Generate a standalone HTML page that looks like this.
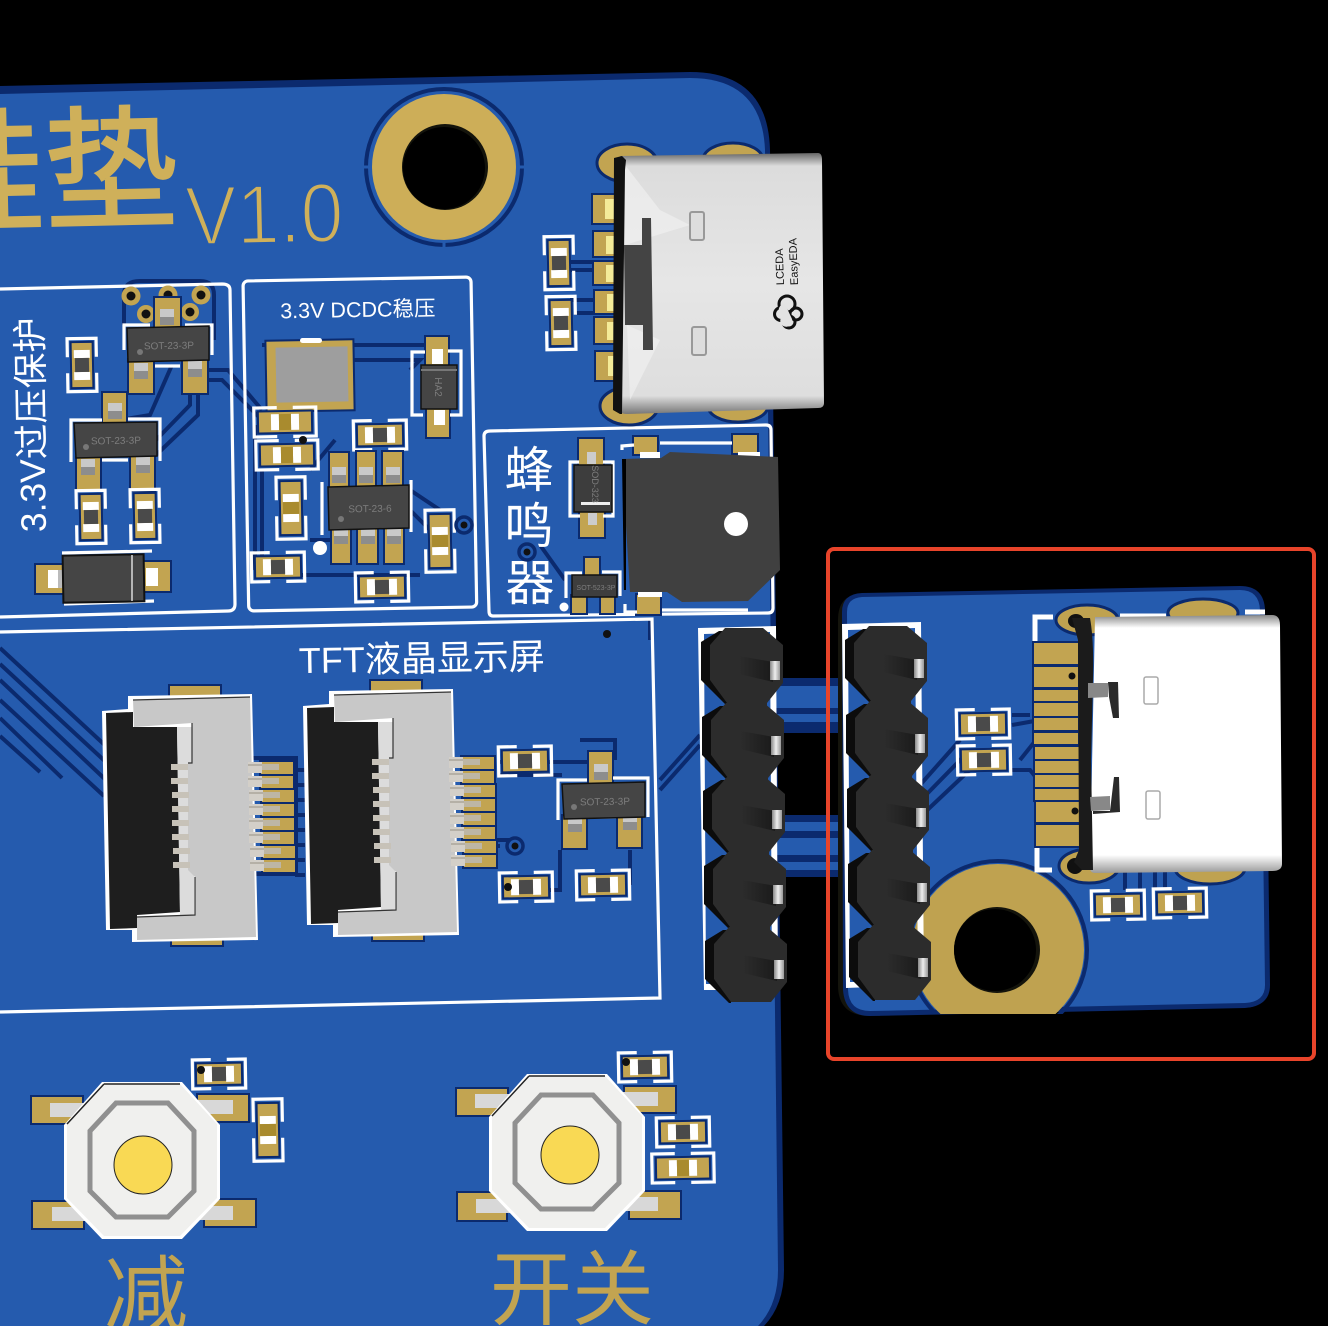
<!DOCTYPE html>
<html><head><meta charset="utf-8"><style>
html,body{margin:0;padding:0;background:#000;width:1328px;height:1326px;overflow:hidden}
svg{display:block}
text{font-family:"Liberation Sans","Noto Sans CJK SC",sans-serif}
.g{fill:#C2A451;stroke:#0B2A6E;stroke-width:4;paint-order:stroke}
.t{fill:none;stroke:#0B2A6E;stroke-width:4}
.s{fill:none;stroke:#fff;stroke-width:3.2}
.w{fill:#fff}
.lb{fill:#7d7d7d;font-size:10px;text-anchor:middle}
</style></head><body>
<svg width="1328" height="1326" viewBox="0 0 1328 1326" xmlns="http://www.w3.org/2000/svg">
<defs>
<linearGradient id="sh" x1="0" y1="0" x2="0" y2="1"><stop offset="0" stop-color="#666"/><stop offset=".05" stop-color="#dcdcdc"/><stop offset=".5" stop-color="#e6e6e6"/><stop offset=".93" stop-color="#dedede"/><stop offset="1" stop-color="#777"/></linearGradient>
<linearGradient id="sw" x1="0" y1="0" x2="0" y2="1"><stop offset="0" stop-color="#888"/><stop offset=".05" stop-color="#fff"/><stop offset=".93" stop-color="#fff"/><stop offset="1" stop-color="#999"/></linearGradient>
<linearGradient id="pin" x1="0" y1="0" x2="1" y2="0"><stop offset="0" stop-color="#888"/><stop offset=".5" stop-color="#eee"/><stop offset="1" stop-color="#999"/></linearGradient>
<linearGradient id="nub" x1="0" y1="0" x2="1" y2="0"><stop offset="0" stop-color="#2c2c2c"/><stop offset="1" stop-color="#1a1a1a"/></linearGradient>

<g id="r" transform="rotate(-1)">
<rect class="g" x="-22" y="-10" width="44" height="20"/>
<rect class="w" x="-15" y="-8" width="8" height="16"/><rect class="w" x="7" y="-8" width="8" height="16"/>
<rect fill="#4a4a4a" x="-7" y="-7" width="14" height="14"/>
<path class="s" d="M-8-14.500H-26.500V14.500H-8M8-14.500H26.500V14.500H8"/>
</g>
<g id="c" transform="rotate(-1)">
<rect class="g" x="-26" y="-10" width="52" height="20"/>
<rect class="w" x="-14" y="-8" width="8" height="16"/><rect class="w" x="6" y="-8" width="8" height="16"/>
<rect fill="#A98B2E" x="-6" y="-8" width="12" height="16"/>
<path class="s" d="M-8-14.500H-31V14.500H-8M8-14.500H31V14.500H8"/>
</g>
<g id="via"><circle r="8" fill="#255BAE" stroke="#0B2A6E" stroke-width="3.500"/><circle r="3.500" fill="#111"/></g>
<g id="ep"><rect x="-7" y="-3" width="14" height="16" fill="#c9c9c9"/><rect x="-7" y="5" width="14" height="8" fill="#8d8d8d"/></g>

<g id="pn">
<rect class="g" stroke-width="3" x="261" y="0" width="32" height="12"/>
<rect fill="#bdb6a5" x="261" y="2" width="18" height="6"/>
<rect fill="#d3cfc8" x="248" y="0" width="14" height="11"/>
<rect fill="#b5b0a6" x="248" y="2" width="14" height="2"/>
<rect fill="#c7c2b8" x="171" y="2" width="17" height="6"/>
</g>
<g id="fpc">
<rect class="g" x="170" y="686" width="50" height="11"/><rect class="g" x="172" y="937" width="50" height="8"/>
<path fill="#fff" d="M102 711L128 709V696L252 694 258 940 132 942V930L106 930Z"/>
<path fill="#1e1e1e" d="M106 713L133 712V727L177 727 180 912 137 915V928L110 929Z"/>
<path fill="#dcdcdc" d="M177 727H194V916H180Z"/>
<path fill="#c8c8c8" d="M133 700L250 697 256 937 137 940V917L195 915V877L188 870V763H192V723L134 727Z"/>
<path fill="none" stroke="#333" stroke-width="1.200" d="M192 723V763H188M195 877V915L137 917M133 700L250 697"/>
<use href="#pn" y="762"/><use href="#pn" y="776"/><use href="#pn" y="790" x="1"/><use href="#pn" y="804" x="1"/><use href="#pn" y="818" x="1"/><use href="#pn" y="832" x="1"/><use href="#pn" y="846" x="2"/><use href="#pn" y="860" x="2"/>
</g>

<path id="hd" fill="#0c0c0c" d="M0 14L18 3 26 3V76H24L0 52Z"/>
<path id="hm" fill="#2c2c2c" d="M9 17L24 0H62L82 17V55L66 75H26L9 52Z"/>
<g id="hn">
<path fill="url(#nub)" d="M38 28L72 34V54L38 46Z"/>
<rect x="69" y="33" width="10" height="19" fill="url(#pin)"/>
</g>
<g id="hdr">
<use href="#hd" x="4" y="299"/><use href="#hd" x="3" y="224"/><use href="#hd" x="2" y="149"/><use href="#hd" x="1" y="75"/><use href="#hd"/>
<use href="#hm" x="4" y="299"/><use href="#hm" x="3" y="224"/><use href="#hm" x="2" y="149"/><use href="#hm" x="1" y="75"/><use href="#hm"/>
<rect x="28" y="70" width="38" height="10" fill="#2c2c2c"/><rect x="29" y="145" width="38" height="10" fill="#2c2c2c"/><rect x="30" y="219" width="38" height="10" fill="#2c2c2c"/><rect x="31" y="294" width="38" height="10" fill="#2c2c2c"/>
<use href="#hn" x="4" y="299"/><use href="#hn" x="3" y="224"/><use href="#hn" x="2" y="149"/><use href="#hn" x="1" y="75"/><use href="#hn"/>
</g>
<g id="swb">
<path fill="#fff" d="M-40-79H40L78-36V38L40 78H-40L-78 38V-36Z"/>
<path fill="#f0f0ee" d="M-38-77H38L75-37V37L38 75H-38L-75 37V-37Z"/>
<path fill="none" stroke="#909090" stroke-width="5" d="M-26-58H26L52-30V30L26 56H-26L-52 30V-30Z"/>
<path fill="none" stroke="#222" stroke-width="1.500" d="M-38-77H38M-38-77L-75-37"/>
</g>
</defs>

<rect width="1328" height="1326" fill="#000"/>

<!-- main board -->
<path fill="#0B2A6E" d="M0 86L690 72Q768 72 770 150L784 1270Q784 1305 764 1326H0Z"/>
<path fill="#255BAE" d="M0 94L690 78Q762 78 765 150L778 1270Q778 1305 758 1326H0Z"/>

<!-- bridge strips -->
<rect x="775" y="678" width="80" height="55" fill="#0B2A6E"/><rect x="775" y="686" width="80" height="22" fill="#255BAE"/><rect x="775" y="714" width="80" height="8" fill="#255BAE"/>
<rect x="775" y="815" width="80" height="62" fill="#0B2A6E"/><rect x="775" y="822" width="80" height="9" fill="#255BAE"/><rect x="775" y="838" width="80" height="17" fill="#255BAE"/><rect x="775" y="862" width="80" height="8" fill="#255BAE"/>

<!-- traces -->
<g>
<path class="t" d="M0 648L108 748M0 664L108 764M0 680L108 782M0 700L104 796M0 718L62 778M0 736L40 772"/>
<path class="t" d="M205 370H228L262 410M205 380H222L262 420M172 365L150 415L120 420M156 440L190 405V375M156 455L198 415V375"/>
<path class="t" d="M262 345H440M350 360H420L410 370M255 425V570M262 470V560M310 470L335 440M310 540H330M300 575H420M440 510L410 490M410 510L430 530"/>
<path class="t" d="M570 262H600M570 270H600M570 300H600M574 313H600M540 545L565 580"/>
<path class="t" d="M500 762H590M500 775H562M560 850V890H540M630 850V885M500 846H495M660 790L700 745M660 780L700 735"/>
<path class="t" d="M580 740H615V760M650 640V620"/>
<path class="t" d="M252 758H296V874H252M295 770H305M295 785H305M295 800H305M295 815H305M295 830H305M295 845H305M295 860H305M295 875H305M490 840H515"/>
<circle class="t" cx="444" cy="167" r="78"/>
<path class="t" d="M124 325V295Q124 281 140 281H200Q214 281 214 295V340"/>
</g>
<path stroke="#255BAE" stroke-width="3" fill="none" d="M364 167H372M516 167H526M444 242V250"/>

<!-- mounting hole -->
<ellipse cx="444" cy="167" rx="72" ry="73" fill="#CDAE58"/>
<circle cx="445" cy="167" r="43" fill="#14140c"/><circle cx="444" cy="168" r="41" fill="#000"/>

<!-- title -->
<text x="-89" y="221" font-size="134" fill="#CFB05A" stroke="#CFB05A" stroke-width="2" transform="rotate(-1.300 0 221)">硅垫</text>
<text x="186" y="245" font-size="84" fill="#CFB05A" stroke="#255BAE" stroke-width="2.500" paint-order="fill" textLength="158" lengthAdjust="spacingAndGlyphs" transform="rotate(-1.300 187 245)">V1.0</text>

<!-- silk frames -->
<path class="s" d="M0 289L222 284Q230 284 230 290L235 604Q235 611 228 611L0 617"/>
<rect class="s" x="243" y="281" width="228" height="330" rx="5" transform="rotate(-1 243 281)"/>
<path class="s" d="M484 436Q484 431 490 431L766 425Q771 425 771 430L773 608Q773 613 768 613L493 616Q489 616 489 611Z"/>
<path class="s" d="M0 632L652 619 660 998 0 1012"/>

<!-- labels -->
<text transform="translate(46 532) rotate(-91)" font-size="35.500" fill="#fff">3.3V过压保护</text>
<text x="358" y="317" font-size="21.500" fill="#fff" text-anchor="middle" transform="rotate(-1 358 317)">3.3V DCDC稳压</text>
<text x="422" y="671" font-size="36" fill="#fff" text-anchor="middle" transform="rotate(-1 422 671)">TFT液晶显示屏</text>
<text x="529" y="487" font-size="49" fill="#fff" text-anchor="middle">蜂</text>
<text x="529" y="543" font-size="49" fill="#fff" text-anchor="middle">鸣</text>
<text x="530" y="600" font-size="49" fill="#fff" text-anchor="middle">器</text>

<!-- vias top -->
<g fill="#C2A451">
<circle cx="131" cy="296" r="9.500"/><circle cx="168" cy="295" r="9.500"/><circle cx="201" cy="295" r="9.500"/><circle cx="146" cy="314" r="9"/><circle cx="190" cy="312" r="9"/>
</g>
<g fill="#111"><circle cx="131" cy="296" r="4.500"/><circle cx="168" cy="295" r="4.500"/><circle cx="201" cy="295" r="4.500"/><circle cx="146" cy="314" r="4.500"/><circle cx="190" cy="312" r="4.500"/></g>

<!-- SOT 1 -->
<rect class="g" x="155" y="298" width="25" height="30"/><rect class="g" x="129" y="360" width="24" height="33"/><rect class="g" x="183" y="360" width="24" height="33"/>
<use href="#ep" x="167" y="312"/><use href="#ep" x="141" y="366"/><use href="#ep" x="195" y="364"/>
<path class="s" d="M124 350V325H150M185 325H212V355M155 366H180"/>
<path fill="#454545" stroke="#111" stroke-width="1.500" d="M127 328L209 326V360L128 362Z"/>
<text class="lb" x="169" y="349" transform="rotate(-1 169 349)">SOT-23-3P</text><circle cx="140" cy="352" r="3" fill="#777"/>
<!-- SOT 2 -->
<rect class="g" x="103" y="393" width="23" height="30"/><rect class="g" x="77" y="458" width="23" height="32"/><rect class="g" x="131" y="456" width="23" height="34"/>
<use href="#ep" x="115" y="406"/><use href="#ep" x="88" y="462"/><use href="#ep" x="143" y="460"/>
<path class="s" d="M71 462V420H102M128 419H160V461M102 460H128"/>
<path fill="#454545" stroke="#111" stroke-width="1.500" d="M74 423L157 422V456L76 458Z"/>
<text class="lb" x="116" y="444" transform="rotate(-1 116 444)">SOT-23-3P</text><circle cx="86" cy="447" r="3" fill="#777"/>
<use href="#r" transform="translate(82 365) rotate(90)"/>
<use href="#r" transform="translate(91 517) rotate(90)"/>
<use href="#r" transform="translate(145 516) rotate(90)"/>
<!-- diode -->
<rect class="g" x="36" y="565" width="30" height="28"/><rect class="g" x="141" y="562" width="29" height="29"/>
<rect class="w" x="48" y="570" width="14" height="18"/><rect fill="#bbb" x="58" y="570" width="4" height="18"/><rect class="w" x="146" y="568" width="12" height="18"/>
<path class="s" d="M62 553L152 551M64 604L154 601"/>
<rect x="63" y="555" width="81" height="47" fill="#454545" stroke="#111" stroke-width="2" transform="rotate(-1 103 578)"/>
<path stroke="#ddd" stroke-width="1.500" d="M132 555V601"/>

<!-- inductor -->
<rect class="g" x="267" y="341" width="86" height="69" transform="rotate(-1 310 375)"/>
<rect x="276" y="347" width="72" height="55" fill="#9e9e9e" transform="rotate(-1 310 375)"/>
<rect x="300" y="338" width="22" height="5" rx="2.500" fill="#fff"/>
<!-- HA2 -->
<rect class="g" x="426" y="337" width="22" height="29"/><rect class="g" x="427" y="408" width="22" height="29"/>
<rect class="w" x="432" y="349" width="11" height="15"/><rect class="w" x="434" y="410" width="11" height="15"/>
<path class="s" d="M425 352H412V415H423M448 351H461V415H450"/>
<rect x="421" y="365" width="36" height="44" fill="#454545" stroke="#111" stroke-width="1.500"/>
<rect x="421" y="369" width="36" height="2" fill="#777"/>
<text class="lb" transform="translate(435 387) rotate(90)">HA2</text>
<!-- caps/resistors DCDC -->
<use href="#c" transform="translate(285 422)"/><use href="#c" transform="translate(287 455)"/>
<use href="#r" transform="translate(380 435)"/>
<use href="#c" transform="translate(291 508) rotate(90)"/>
<use href="#r" transform="translate(278 567)"/><use href="#r" transform="translate(382 587)"/>
<use href="#c" transform="translate(440 541) rotate(90)"/>
<use href="#via" x="464" y="525"/>
<circle cx="303" cy="440" r="4" fill="#111"/>
<!-- SOT-23-6 -->
<g>
<rect class="g" x="330" y="453" width="18" height="35"/><rect class="g" x="357" y="452" width="18" height="35"/><rect class="g" x="383" y="452" width="19" height="35"/>
<rect class="g" x="332" y="528" width="18" height="35"/><rect class="g" x="358" y="528" width="19" height="35"/><rect class="g" x="385" y="527" width="18" height="36"/>
<use href="#ep" x="339" y="470"/><use href="#ep" x="366" y="470"/><use href="#ep" x="393" y="470"/>
<use href="#ep" x="341" y="531"/><use href="#ep" x="368" y="531"/><use href="#ep" x="394" y="531"/>
</g>
<path class="s" d="M322 482V535M411 480V532"/><circle cx="320" cy="548" r="7" fill="#fff"/>
<path fill="#454545" stroke="#111" stroke-width="1.500" d="M328 487L409 485V528L329 530Z"/>
<text class="lb" x="370" y="512" transform="rotate(-1 370 512)">SOT-23-6</text><circle cx="341" cy="519" r="3" fill="#777"/>

<!-- USB-C top -->
<g fill="#C2A451" stroke="#0B2A6E" stroke-width="3">
<ellipse cx="627" cy="163" rx="30" ry="19"/><ellipse cx="733" cy="160" rx="30" ry="17"/>
<ellipse cx="629" cy="406" rx="29" ry="19"/><ellipse cx="738" cy="406" rx="30" ry="16"/>
</g>
<g>
<rect class="g" x="593" y="195" width="24" height="28"/><rect class="g" x="594" y="232" width="24" height="24"/><rect class="g" x="594" y="262" width="24" height="22"/><rect class="g" x="595" y="291" width="24" height="22"/><rect class="g" x="595" y="318" width="24" height="25"/><rect class="g" x="596" y="352" width="24" height="28"/>
</g>
<g fill="#F4EB98"><rect x="605" y="199" width="10" height="20"/><rect x="606" y="236" width="10" height="18"/><rect x="606" y="265" width="10" height="17"/><rect x="607" y="294" width="10" height="17"/><rect x="607" y="322" width="10" height="18"/><rect x="608" y="356" width="10" height="20"/></g>
<use href="#r" transform="translate(559 263) rotate(90)"/>
<use href="#r" transform="translate(561 323) rotate(90)"/>
<path fill="url(#sh)" d="M620 156L818 153Q822 153 822 160L824 403Q824 408 818 408L627 414Q618 414 618 405Z"/>
<path fill="#f4f4f4" opacity=".55" d="M625 165L660 210 690 225 625 245ZM627 325L660 340 630 400Z"/>
<path fill="#111" d="M614 158L622 156 626 160 625 170 622 414H620L613 410Z"/>
<path fill="#444" d="M624 245H642V218H651L653 350H643V325H625Z"/>
<rect x="690" y="212" width="14" height="28" rx="2" fill="#ddd" stroke="#999" stroke-width="2"/>
<rect x="692" y="327" width="14" height="28" rx="2" fill="#ddd" stroke="#999" stroke-width="2"/>
<text font-size="11" fill="#111" transform="translate(784 285) rotate(-92)">LCEDA</text>
<text font-size="11" fill="#111" transform="translate(798 285) rotate(-92)">EasyEDA</text>
<g fill="none" stroke="#111" stroke-width="3"><circle cx="787" cy="304" r="8"/><circle cx="781" cy="314" r="6.500"/><circle cx="789" cy="322" r="6"/><circle cx="796" cy="314" r="6"/></g>
<path d="M785 304a6 6 0 1 0 3 11 6 6 0 1 0 4 4z" fill="#e3e3e3"/>

<!-- buzzer -->
<rect class="g" x="634" y="437" width="23" height="17"/><rect class="g" x="733" y="435" width="24" height="18"/><rect class="g" x="637" y="595" width="23" height="19"/>
<path class="s" d="M622 450V446L634 445M660 443H732M625 604V612H637M662 610H748"/>
<path fill="#fff" d="M640 452H660V458H640ZM738 452H760V458H738ZM638 592H662V597H638Z"/>
<path fill="#404040" d="M622 459L661 458 670 452 778 457 780 570 748 601 682 602 667 592H630Z"/>
<path fill="#000" d="M622 459H626V590H624Z"/>
<circle cx="736" cy="524" r="12" fill="#fff"/>
<!-- SOD-323 -->
<rect class="g" x="579" y="439" width="24" height="27"/><rect class="g" x="580" y="511" width="24" height="26"/>
<rect fill="#ccc" x="587" y="452" width="9" height="12"/><rect fill="#ccc" x="588" y="513" width="9" height="12"/>
<path class="s" d="M579 462H570V516H580M603 462H613V516H603"/>
<rect x="574" y="465" width="38" height="47" fill="#3d3d3d" stroke="#111" stroke-width="1.500"/>
<rect x="581" y="502" width="29" height="3" fill="#eee"/>
<text class="lb" style="font-size:9px" transform="translate(592 484) rotate(90)">SOD-323</text>
<!-- SOT-523 -->
<rect class="g" x="585" y="558" width="14" height="19"/><rect class="g" x="572" y="596" width="14" height="17"/><rect class="g" x="601" y="596" width="13" height="17"/>
<path class="s" d="M566 598V573H582M602 572H620V596"/><circle cx="564" cy="607" r="4.500" fill="#fff"/>
<rect x="572" y="575" width="45" height="22" fill="#3e3e3e" stroke="#111" stroke-width="1.500"/>
<text class="lb" style="font-size:7px" x="596" y="590">SOT-523-3P</text>
<use href="#via" x="527" y="552"/>
<circle cx="607" cy="634" r="4" fill="#111"/>

<!-- FPCs -->
<use href="#fpc"/><use href="#fpc" x="201" y="-5"/>
<!-- TFT side parts -->
<use href="#r" transform="translate(525 761)"/>
<use href="#r" transform="translate(526 887)"/><use href="#r" transform="translate(603 885)"/>
<circle cx="508" cy="887" r="4" fill="#111"/>
<use href="#via" x="515" y="846"/>
<rect class="g" x="589" y="752" width="23" height="32"/><rect class="g" x="563" y="816" width="23" height="32"/><rect class="g" x="618" y="815" width="23" height="32"/>
<use href="#ep" x="601" y="767"/><use href="#ep" x="575" y="819"/><use href="#ep" x="630" y="817"/>
<path class="s" d="M558 820V780H587M613 778H648V817M588 817H616"/>
<path fill="#454545" stroke="#111" stroke-width="1.500" d="M562 784L645 782V817L564 819Z"/>
<text class="lb" x="605" y="805" transform="rotate(-1 605 805)">SOT-23-3P</text><circle cx="574" cy="807" r="3" fill="#777"/>

<!-- headers -->
<path fill="#fff" d="M698 628L776 626 778 990H716 704ZM704 634L706 984H772L770 632Z" fill-rule="evenodd"/>
<use href="#hdr" x="701" y="628"/>

<!-- switch 1 -->
<g>
<rect class="g" x="32" y="1097" width="50" height="26"/><rect class="g" x="198" y="1095" width="50" height="26"/><rect class="g" x="33" y="1202" width="50" height="26"/><rect class="g" x="205" y="1200" width="50" height="26"/>
<g fill="#d8d8d8"><rect x="50" y="1103" width="40" height="14"/><rect x="195" y="1100" width="38" height="14"/><rect x="52" y="1207" width="40" height="14"/><rect x="195" y="1206" width="38" height="14"/></g>
<use href="#swb" x="142" y="1161"/><ellipse cx="143" cy="1165" rx="29" ry="29" fill="#F9D954" stroke="#222" stroke-width="1"/>
<use href="#r" transform="translate(219 1074)"/><use href="#c" transform="translate(268 1130) rotate(90)"/>
<circle cx="201" cy="1070" r="4" fill="#111"/>
</g>
<!-- switch 2 -->
<g>
<rect class="g" x="457" y="1089" width="50" height="26"/><rect class="g" x="625" y="1087" width="50" height="25"/><rect class="g" x="458" y="1193" width="48" height="27"/><rect class="g" x="630" y="1192" width="50" height="26"/>
<g fill="#d8d8d8"><rect x="475" y="1094" width="40" height="14"/><rect x="620" y="1092" width="38" height="14"/><rect x="476" y="1199" width="40" height="14"/><rect x="620" y="1197" width="38" height="14"/></g>
<use href="#swb" x="567" y="1153"/><ellipse cx="570" cy="1155" rx="29" ry="29" fill="#F9D954" stroke="#222" stroke-width="1"/>
<use href="#r" transform="translate(645 1067)"/><use href="#r" transform="translate(683 1132)"/><use href="#c" transform="translate(683 1168)"/>
<circle cx="626" cy="1062" r="4" fill="#111"/>
</g>
<text x="146" y="1325" font-size="84" fill="#C2A451" text-anchor="middle">减</text>
<text x="572" y="1318" font-size="82" fill="#C2A451" text-anchor="middle">开关</text>

<!-- small board -->
<path fill="#14140c" d="M838 620Q838 594 862 594L880 594V1016H870Q838 1016 838 985Z"/>
<path fill="#0B2A6E" d="M842 612Q842 594 862 593L1240 586Q1264 586 1265 610L1270 985Q1270 1006 1245 1008L870 1016Q845 1016 843 990Z"/>
<path fill="#255BAE" d="M847 612Q847 598 862 597L1240 590Q1259 590 1260 610L1265 985Q1265 1002 1245 1003L870 1011Q849 1011 848 990Z"/>
<path class="t" d="M920 785L960 740M921 800L968 752M922 815L975 765M1012 715H1030M1012 725L1040 720M1012 770H1030L1042 785M1020 760L1040 735M1125 870V890M1140 870V890M1155 870V890M1165 870V890"/>
<!-- connector hole -->
<clipPath id="cb"><path d="M847 612V1014H1265V590H847Z"/></clipPath>
<g clip-path="url(#cb)">
<circle cx="998" cy="950" r="89" fill="none" stroke="#0B2A6E" stroke-width="4"/>
<circle cx="998" cy="950" r="86" fill="#BFA250"/>
<path fill="#255BAE" d="M900 1014H1100V1040H900Z"/>
</g>
<circle cx="997" cy="950" r="43" fill="#14140c"/><circle cx="995" cy="950" r="41" fill="#000"/>
<!-- pads -->
<g fill="#BFA250" stroke="#0B2A6E" stroke-width="3">
<ellipse cx="1087" cy="620" rx="31" ry="15"/><ellipse cx="1203" cy="613" rx="35" ry="14"/>
<ellipse cx="1089" cy="866" rx="30" ry="17"/><ellipse cx="1210" cy="868" rx="35" ry="16"/>
</g>
<g fill="#111"><ellipse cx="1076" cy="621" rx="8" ry="7"/><ellipse cx="1075" cy="866" rx="8" ry="8"/></g>
<g>
<rect class="g" x="1034" y="643" width="44" height="21"/><rect class="g" x="1034" y="667" width="44" height="20"/><rect class="g" x="1034" y="690" width="44" height="11"/><rect class="g" x="1034" y="703" width="44" height="13"/><rect class="g" x="1034" y="718" width="44" height="12"/><rect class="g" x="1034" y="733" width="44" height="11"/><rect class="g" x="1035" y="747" width="44" height="12"/><rect class="g" x="1035" y="761" width="44" height="12"/><rect class="g" x="1035" y="775" width="44" height="12"/><rect class="g" x="1035" y="789" width="44" height="11"/><rect class="g" x="1036" y="802" width="44" height="20"/><rect class="g" x="1036" y="825" width="44" height="21"/>
</g>
<circle cx="1072" cy="676" r="3.500" fill="#111"/><circle cx="1075" cy="811" r="3.500" fill="#111"/>
<path class="s" style="stroke-width:5" d="M1053 617H1035V641M1037 848V870H1052M1120 616H1166M1245 612H1265"/>
<use href="#r" transform="translate(983 724)"/><use href="#r" transform="translate(984 760)"/>
<use href="#r" transform="translate(1118 905)"/><use href="#r" transform="translate(1180 903)"/>
<!-- small USB-C -->
<path fill="url(#sw)" d="M1095 617L1272 615Q1280 615 1280 625L1282 864Q1282 871 1272 871L1095 873Q1089 873 1090 865Z"/>
<path fill="#1b1b1b" d="M1072 618L1090 618Q1094 640 1093 680L1091 760 1093 870H1082L1074 862 1079 850 1078 640Z"/>
<path fill="#888" d="M1088 683L1108 683V697L1088 698Z"/>
<path fill="#2a2a2a" d="M1108 682H1118L1119 718H1113L1109 697Z"/>
<path fill="#888" d="M1090 797L1110 796V810L1091 811Z"/>
<path fill="#2a2a2a" d="M1114 777H1119L1120 812 1093 814V811H1110Z"/>
<rect x="1144" y="677" width="14" height="27" rx="2" fill="#fff" stroke="#aaa" stroke-width="1.500"/>
<rect x="1146" y="791" width="14" height="28" rx="2" fill="#fff" stroke="#aaa" stroke-width="1.500"/>
<!-- header 2 -->
<path fill="#fff" d="M842 624L921 622 924 985 846 988ZM848 630L850 982H918L915 628Z" fill-rule="evenodd"/>
<use href="#hdr" x="845" y="626"/>

<!-- red box -->
<rect x="828" y="549" width="486" height="510" rx="6" fill="none" stroke="#E8442A" stroke-width="4"/>
</svg>
</body></html>
